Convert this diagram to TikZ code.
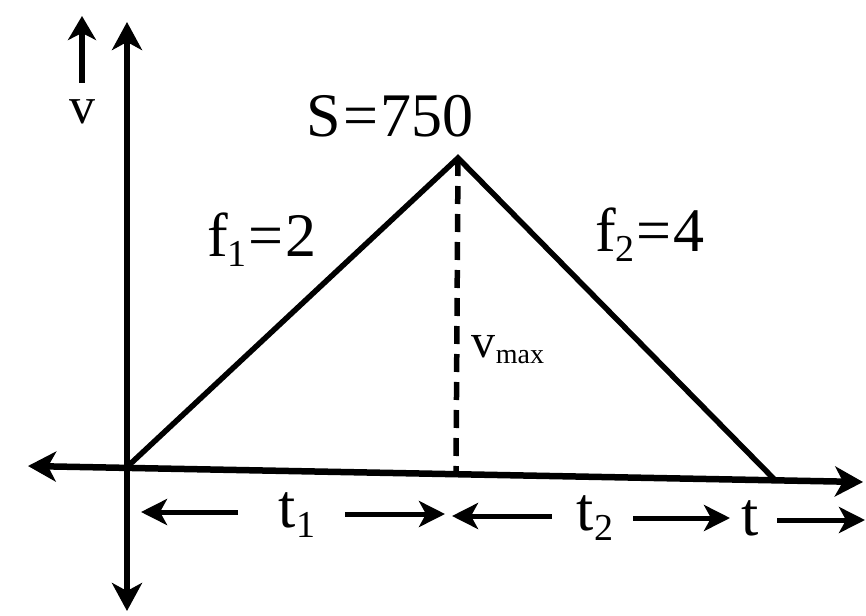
\documentclass[tikz,border=0pt]{standalone}
\usepackage{fontspec}
\setmainfont{Liberation Serif}
\usetikzlibrary{arrows.meta}
\newcommand\lowidx[1]{\raisebox{-10pt}{\fontsize{38}{38}\selectfont #1}}
\begin{document}
\begin{tikzpicture}[x=1pt,y=-1pt,
  bigtip/.style={Stealth[length=28pt,width=28pt,inset=8pt]},
  axisline/.style={line width=6.5pt},
  graphline/.style={line width=5.5pt},
  dimline/.style={line width=5pt,-{Stealth[length=26pt,width=26pt,inset=7pt]}},
  lbl/.style={inner sep=0pt,font=\fontsize{62}{64}\selectfont},
  smalllbl/.style={inner sep=0pt,font=\fontsize{52}{54}\selectfont}]
\useasboundingbox (0,0) rectangle (866,615);
% coordinates
\coordinate (O) at (127,467);
\coordinate (P) at (458,158);
\coordinate (E) at (775,480);
\coordinate (D) at (456,475);
\coordinate (ytop) at (127,22);
\coordinate (ybot) at (127,611);
\coordinate (xl) at (28,466);
\coordinate (xr) at (863,482);
% axes
\draw[axisline,{Stealth[length=28pt,width=30pt,inset=8pt]}-{Stealth[length=28pt,width=30pt,inset=8pt]}] (ybot) -- (ytop);
\draw[axisline,{Stealth[length=28pt,width=30pt,inset=8pt]}-{Stealth[length=28pt,width=30pt,inset=8pt]}] (xl) -- (xr);
% v label with arrow
\coordinate (va) at (82,83);
\coordinate (vb) at (82,16);
\draw[line width=6pt,-{Stealth[length=24pt,width=28pt,inset=7pt]}] (va) -- (vb);
\node[smalllbl] (v) at (82,112) {v};
% triangle
\draw[graphline,line join=miter] (O) -- (P) -- (E);
\draw[graphline,dash pattern=on 18pt off 10pt] (P) -- (D);
% labels
\node[lbl] (S) at (390,116) {S\hspace{2pt}=\hspace{2pt}750};
\node[lbl] (f1) at (262,240) {f\lowidx{1}\hspace{2pt}=\hspace{2pt}2};
\node[lbl] (f2) at (650,235) {f\lowidx{2}\hspace{2pt}=\hspace{2pt}4};
\node[inner sep=0pt,font=\fontsize{48}{48}\selectfont] (vmax) at (508,350) {v\raisebox{-6pt}{\fontsize{28}{28}\selectfont max}};
% bottom dimension row
\node[lbl] (t1) at (297,515) {t\lowidx{1}};
\node[lbl] (t2) at (595,518) {t\lowidx{2}};
\node[lbl] (t) at (750,518) {t};
\coordinate (a1s) at (238,512);
\coordinate (a1e) at (141,512);
\coordinate (a2s) at (345,514);
\coordinate (a2e) at (445,514);
\coordinate (a3s) at (552,516);
\coordinate (a3e) at (452,516);
\coordinate (a4s) at (633,518);
\coordinate (a4e) at (730,518);
\coordinate (a5s) at (777,520);
\coordinate (a5e) at (865,520);
\draw[dimline] (a1s) -- (a1e);
\draw[dimline] (a2s) -- (a2e);
\draw[dimline] (a3s) -- (a3e);
\draw[dimline] (a4s) -- (a4e);
\draw[dimline] (a5s) -- (a5e);
\end{tikzpicture}
\end{document}
